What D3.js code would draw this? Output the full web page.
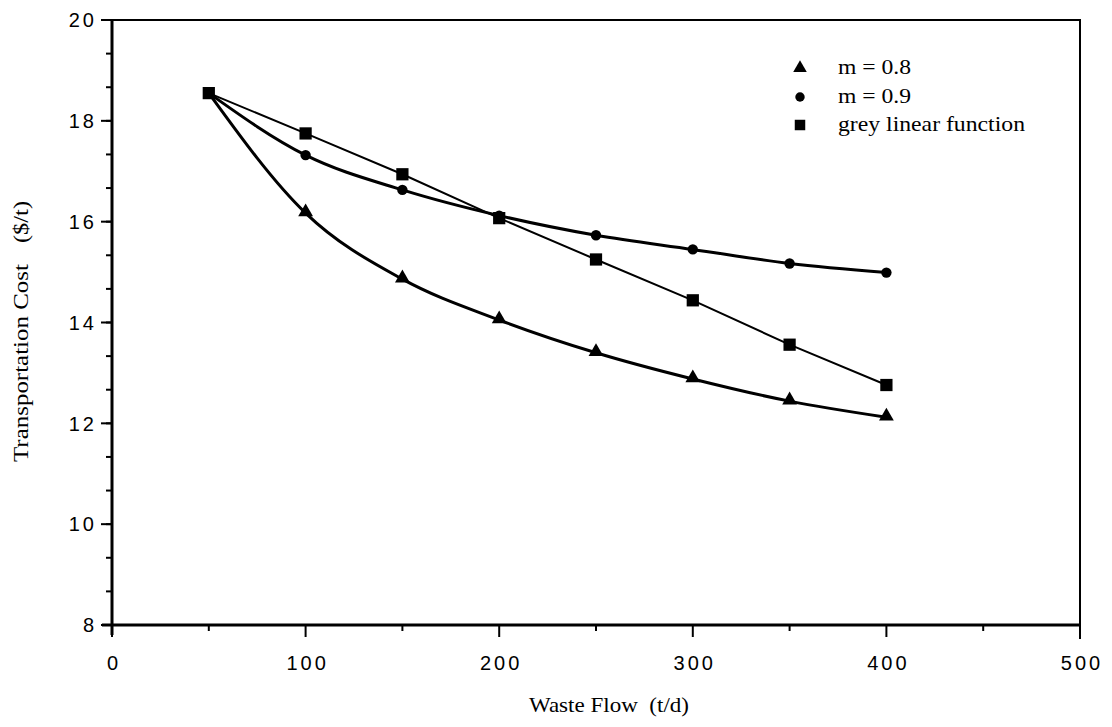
<!DOCTYPE html>
<html>
<head>
<meta charset="utf-8">
<script src="https://cdn.jsdelivr.net/npm/d3@7"></script>
<style>
  html, body { margin: 0; padding: 0; background: #fff; }
  svg { display: block; }
  .tick-label { font-family: "Liberation Sans", Arial, sans-serif; font-size: 20px; letter-spacing: 3px; fill: #000; }
  .title { font-family: "Liberation Serif", "Times New Roman", serif; font-size: 21px; fill: #000; }
  .legend { font-family: "Liberation Serif", "Times New Roman", serif; font-size: 21px; fill: #000; }
</style>
</head>
<body>
<svg id="chart" width="1112" height="727"></svg>
<script>
const wasteFlow = [50, 100, 150, 200, 250, 300, 350, 400];
const costM08 = [18.55, 16.17, 14.86, 14.05, 13.40, 12.88, 12.44, 12.12];
const costM09 = [18.55, 17.32, 16.63, 16.12, 15.73, 15.45, 15.17, 14.99];
const costGrey = [18.55, 17.75, 16.94, 16.07, 15.25, 14.44, 13.56, 12.76];
const seriesNames = ["m = 0.8", "m = 0.9", "grey linear function"];
const xTicks = [0, 100, 200, 300, 400, 500];
const yTicks = [8, 10, 12, 14, 16, 18, 20];

const svg = d3.select("#chart");
const x = d3.scaleLinear().domain([0, 500]).range([112, 1080]);
const y = d3.scaleLinear().domain([8, 20]).range([625, 20]);

// frame
svg.append("rect").attr("x", 112).attr("y", 20).attr("width", 968).attr("height", 605)
  .attr("fill", "none").attr("stroke", "#000").attr("stroke-width", 2);

// Y axis
const yAxis = svg.append("g").attr("transform", "translate(112,0)");
const yMinor = d3.range(8, 20.001, 2 / 3);
yAxis.selectAll("line.minor").data(yMinor).join("line")
  .attr("x1", -6).attr("x2", 0).attr("y1", d => y(d)).attr("y2", d => y(d))
  .attr("stroke", "#000").attr("stroke-width", 2);
yAxis.selectAll("line.major").data(yTicks).join("line")
  .attr("x1", -11).attr("x2", 0).attr("y1", d => y(d)).attr("y2", d => y(d))
  .attr("stroke", "#000").attr("stroke-width", 2);
yAxis.append("line").attr("x1", 0).attr("x2", 0).attr("y1", y(20)).attr("y2", y(8) + 10)
  .attr("stroke", "#000").attr("stroke-width", 3);
yAxis.selectAll("text").data(yTicks).join("text")
  .attr("class", "tick-label").attr("x", -15).attr("y", d => y(d)).attr("dy", "0.36em")
  .attr("text-anchor", "end").text(d => d);

// X axis
const xAxis = svg.append("g").attr("transform", "translate(0,625)");
xAxis.append("line").attr("x1", x(0) - 10).attr("x2", x(500)).attr("y1", 0).attr("y2", 0)
  .attr("stroke", "#000").attr("stroke-width", 3);
xAxis.selectAll("line.minor").data(d3.range(50, 500, 100)).join("line")
  .attr("x1", d => x(d)).attr("x2", d => x(d)).attr("y1", 0).attr("y2", 6)
  .attr("stroke", "#000").attr("stroke-width", 2);
xAxis.selectAll("line.major").data(xTicks).join("line")
  .attr("x1", d => x(d)).attr("x2", d => x(d)).attr("y1", 0).attr("y2", d => d === 500 ? 14 : 12)
  .attr("stroke", "#000").attr("stroke-width", 2);
xAxis.selectAll("text").data(xTicks).join("text")
  .attr("class", "tick-label").attr("x", d => x(d) + 2).attr("y", 45)
  .attr("text-anchor", "middle").text(d => d);

// titles
svg.append("text").attr("class", "title").attr("x", 529).attr("y", 712)
  .attr("textLength", 160).attr("lengthAdjust", "spacingAndGlyphs")
  .attr("xml:space", "preserve").text("Waste Flow  (t/d)");
const yt = svg.append("g").attr("transform", "translate(28,0) rotate(-90)");
yt.append("text").attr("class", "title").attr("x", -462).attr("y", 0)
  .attr("textLength", 198).attr("lengthAdjust", "spacingAndGlyphs").text("Transportation Cost");
yt.append("text").attr("class", "title").attr("x", -243).attr("y", 0)
  .attr("textLength", 42).attr("lengthAdjust", "spacingAndGlyphs").text("($/t)");

// lines
const mk = vals => wasteFlow.map((w, i) => [w, vals[i]]);
const smooth = d3.line().x(d => x(d[0])).y(d => y(d[1])).curve(d3.curveMonotoneX);
const straight = d3.line().x(d => x(d[0])).y(d => y(d[1]));

svg.append("path").attr("d", straight(mk(costGrey))).attr("fill", "none")
  .attr("stroke", "#000").attr("stroke-width", 2);
svg.append("path").attr("d", smooth(mk(costM09))).attr("fill", "none")
  .attr("stroke", "#000").attr("stroke-width", 3);
svg.append("path").attr("d", smooth(mk(costM08))).attr("fill", "none")
  .attr("stroke", "#000").attr("stroke-width", 3);

// markers
const triSym = d3.symbol().type(d3.symbolTriangle).size(95);
const dotSym = d3.symbol().type(d3.symbolCircle).size(85);
const sqSym = d3.symbol().type(d3.symbolSquare).size(150);

svg.selectAll("path.m08").data(mk(costM08).slice(1)).join("path")
  .attr("d", triSym).attr("transform", d => `translate(${x(d[0])},${y(d[1]) - 1})`).attr("fill", "#000");
svg.selectAll("path.m09").data(mk(costM09).slice(1)).join("path")
  .attr("d", dotSym).attr("transform", d => `translate(${x(d[0])},${y(d[1])})`).attr("fill", "#000");
svg.selectAll("path.grey").data(mk(costGrey)).join("path")
  .attr("d", sqSym).attr("transform", d => `translate(${x(d[0])},${y(d[1])})`).attr("fill", "#000");

// legend
const legY = [68, 97, 125];
const legLen = [73, 73, 187];
const legSyms = [d3.symbol().type(d3.symbolTriangle).size(80), d3.symbol().type(d3.symbolCircle).size(70), d3.symbol().type(d3.symbolSquare).size(110)];
seriesNames.forEach((name, i) => {
  svg.append("path").attr("d", legSyms[i]).attr("transform", `translate(800,${legY[i]})`).attr("fill", "#000");
  svg.append("text").attr("class", "legend").attr("x", 838).attr("y", legY[i]).attr("dy", "0.3em")
    .attr("textLength", legLen[i]).attr("lengthAdjust", "spacingAndGlyphs").text(name);
});
</script>
</body>
</html>
